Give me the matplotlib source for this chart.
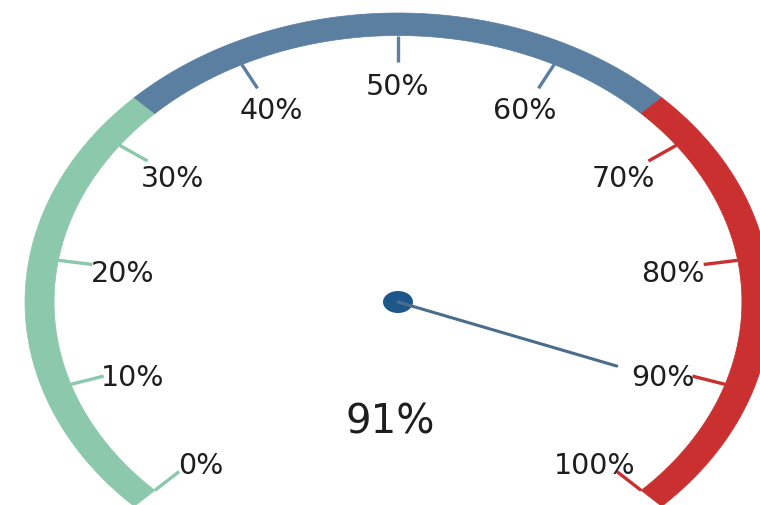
import numpy as np
import matplotlib.pyplot as plt
from matplotlib.patches import Polygon, Ellipse

# gauge data
value = 91
tick_values = [0, 10, 20, 30, 40, 50, 60, 70, 80, 90, 100]
tick_labels = ['0%', '10%', '20%', '30%', '40%', '50%', '60%', '70%', '80%', '90%', '100%']
band_edges = [0, 100 / 3, 200 / 3, 100]
band_colors = ['#8cc8ab', '#5a7fa0', '#c9302f']

# layout (pixels), gauge is stretched horizontally
CX, CY = 398, 302
SX, SY = 373, 289
R_OUT, R_IN = 1.0, 0.922
START, SPAN = 225.0, 270.0


def angle(v):
    return np.radians(START - v / 100.0 * SPAN)


def pt(v, rx, ry=None):
    if ry is None:
        ry = rx
    a = angle(v)
    return CX + SX * rx * np.cos(a), CY - SY * ry * np.sin(a)


def band_color(v):
    for i in range(len(band_colors)):
        if v <= band_edges[i + 1] + 1e-9:
            return band_colors[i]
    return band_colors[-1]


fig = plt.figure(figsize=(7.6, 5.05), dpi=100)
ax = fig.add_axes([0, 0, 1, 1])
ax.set_xlim(0, 760)
ax.set_ylim(505, 0)
ax.axis('off')

# colored arc bands
for i, c in enumerate(band_colors):
    vs = np.linspace(band_edges[i], band_edges[i + 1], 80)
    outer = [pt(v, R_OUT) for v in vs]
    inner = [pt(v, R_IN) for v in vs[::-1]]
    ax.add_patch(Polygon(outer + inner, closed=True, facecolor=c, edgecolor=c, lw=0.5))

# ticks and labels
for v, lab in zip(tick_values, tick_labels):
    x0, y0 = pt(v, R_IN)
    x1, y1 = pt(v, R_IN * 0.9)
    ax.plot([x0, x1], [y0, y1], color=band_color(v), lw=2.4, solid_capstyle='butt')
    tx, ty = pt(v, R_IN * 0.81, R_IN * 0.833)
    ax.text(tx, ty + 7, lab, ha='center', va='center', fontsize=20.5, color='#1e1e1e')

# pointer
px, py = pt(value, R_IN * 0.68)
ax.plot([CX, px], [CY, py], color='#4a6d8c', lw=2.2, solid_capstyle='round')
ax.add_patch(Ellipse((CX, CY), 30, 22, facecolor='#1d5689', edgecolor='none'))

ax.text(CX - 8, 423, f'{value}%', ha='center', va='center', fontsize=29, color='#1e1e1e')

fig.savefig('out.png', dpi=100)
